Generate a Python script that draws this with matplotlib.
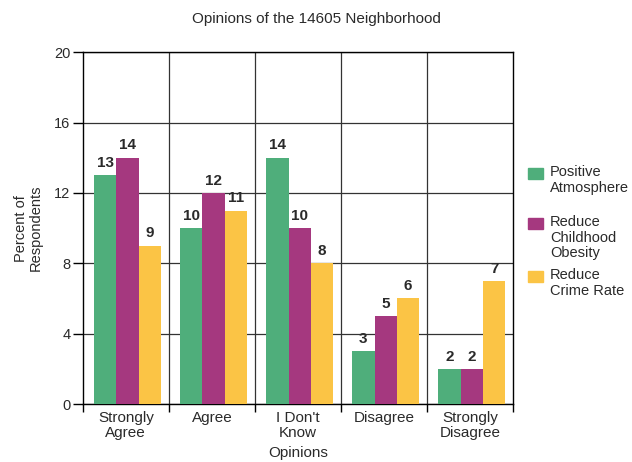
import numpy as np
import matplotlib; matplotlib.use("Agg")
import matplotlib.pyplot as plt
from matplotlib.patches import Rectangle

plt.rcParams.update({"font.family": ["Liberation Sans", "DejaVu Sans"], "font.size": 11,
                     "axes.linewidth": 1.0})

categories = ["Strongly\nAgree", "Agree", "I Don't\nKnow", "Disagree", "Strongly\nDisagree"]
series = ["Positive\nAtmosphere", "Reduce\nChildhood\nObesity", "Reduce\nCrime Rate"]
positive = [13, 10, 14, 3, 2]
obesity = [14, 12, 10, 5, 2]
crime = [9, 11, 8, 6, 7]
colors = ["#4fae7b", "#a5387f", "#fbc445"]
INK = "#2a2a2a"

fig = plt.figure(figsize=(6.32, 4.62), dpi=100)
ax = fig.add_axes([0.131, 0.1255, 0.681, 0.7615])
x = np.arange(len(categories))
w = 0.26
for k, (vals, col) in enumerate(zip([positive, obesity, crime], colors)):
    xs = x + (k - 1) * w + 0.02
    ax.bar(xs, vals, width=w, color=col, edgecolor="none", zorder=3)
    for xi, v in zip(xs, vals):
        ax.text(xi, v + 0.3, str(v), ha="center", va="bottom", fontsize=11,
                fontweight="bold", color=INK, zorder=4)

ax.set_xlim(-0.5, len(categories) - 0.5)
ax.set_ylim(0, 20)
ax.set_yticks(range(0, 21, 4))
ax.set_xticks(x)
ax.set_xticklabels(categories, fontsize=11, color=INK, linespacing=1.05)
ax.tick_params(axis="x", length=0, pad=5)
ax.set_xticks(np.arange(-0.5, len(categories)), minor=True)
ax.tick_params(axis="x", which="minor", length=6, width=1, direction="out")
ax.tick_params(axis="y", length=7, width=1, direction="out", labelsize=10.5, labelcolor=INK, pad=2)
ax.grid(axis="y", color="#333333", lw=0.9, zorder=0)
for b in np.arange(0.5, len(categories) - 0.5):
    ax.axvline(b, color="#333333", lw=0.9, zorder=0)

ax.set_xlabel("Opinions", fontsize=11, color=INK, labelpad=5)
ax.set_ylabel("Percent of\nRespondents", fontsize=10.5, color=INK, labelpad=8, linespacing=1.05)
fig.text(0.5, 0.958, "Opinions of the 14605 Neighborhood", ha="center", va="center",
         fontsize=11, color=INK)

# legend: square aligned with first line of each label
leg_tops = [168, 218, 271]
for lab, col, top in zip(series, colors, leg_tops):
    fig.patches.append(Rectangle((528 / 632, 1 - (top + 11) / 462), 15 / 632, 11 / 462,
                                 transform=fig.transFigure, color=col))
    fig.text(550 / 632, 1 - (top - 3) / 462, lab, ha="left", va="top", fontsize=10.5,
             color=INK, linespacing=1.15)

fig.savefig("out.png", dpi=100, facecolor="white")
